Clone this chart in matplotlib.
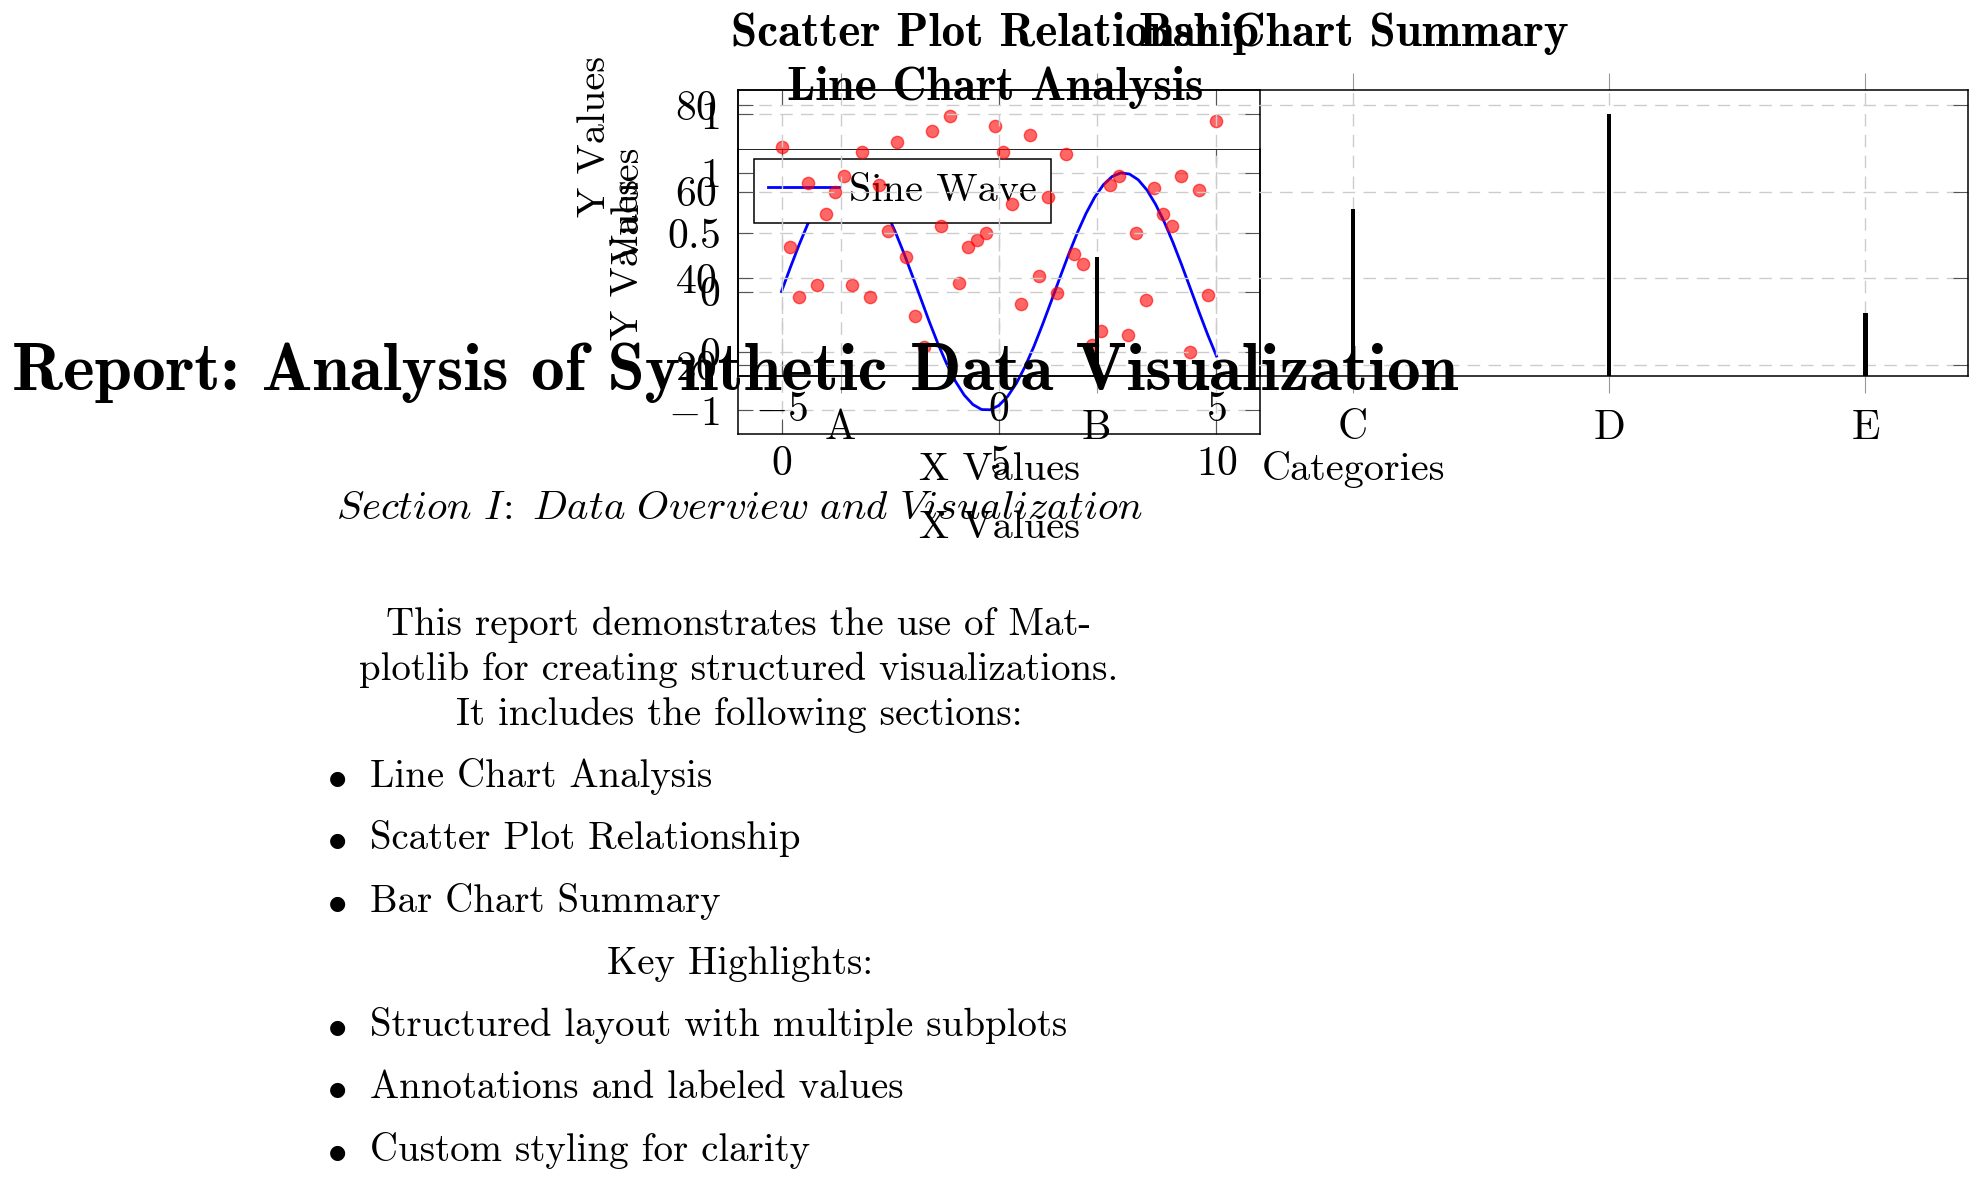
#!/usr/bin/env python3

import numpy as np
import matplotlib
matplotlib.use("Agg")
import matplotlib.pyplot as plt

# data
line_x = [0.0, 0.2, 0.4, 0.6, 0.8, 1.0, 1.2, 1.4, 1.6, 1.8,
          2.0, 2.2, 2.4, 2.6, 2.8, 3.0, 3.2, 3.4, 3.6, 3.8,
          4.0, 4.2, 4.4, 4.6, 4.8, 5.0, 5.2, 5.4, 5.6, 5.8,
          6.0, 6.2, 6.4, 6.6, 6.8, 7.0, 7.2, 7.4, 7.6, 7.8,
          8.0, 8.2, 8.4, 8.6, 8.8, 9.0, 9.2, 9.4, 9.6, 9.8, 10.0]
line_y = [0.000, 0.199, 0.389, 0.565, 0.717, 0.841, 0.932, 0.985, 1.000, 0.974,
          0.909, 0.808, 0.675, 0.516, 0.335, 0.141, -0.058, -0.256, -0.443, -0.612,
          -0.757, -0.872, -0.952, -0.994, -0.996, -0.959, -0.883, -0.773, -0.631, -0.465,
          -0.279, -0.083, 0.117, 0.312, 0.494, 0.657, 0.794, 0.899, 0.968, 0.999,
          0.989, 0.941, 0.855, 0.734, 0.585, 0.412, 0.223, 0.025, -0.174, -0.366, -0.544]

scatter_x = [-5.00, -4.80, -4.59, -4.39, -4.18, -3.98, -3.78, -3.57, -3.37, -3.16,
             -2.96, -2.76, -2.55, -2.35, -2.14, -1.94, -1.73, -1.53, -1.33, -1.12,
             -0.92, -0.71, -0.51, -0.31, -0.10, 0.10, 0.31, 0.51, 0.71, 0.92,
             1.12, 1.33, 1.53, 1.73, 1.94, 2.14, 2.35, 2.55, 2.76, 2.96,
             3.16, 3.37, 3.57, 3.78, 3.98, 4.18, 4.39, 4.59, 4.80, 5.00]
scatter_y = [0.86, 0.44, 0.23, 0.71, 0.28, 0.58, 0.67, 0.74, 0.28, 0.84,
             0.23, 0.70, 0.51, 0.88, 0.40, 0.15, 0.02, 0.93, 0.53, 0.99,
             0.29, 0.44, 0.47, 0.50, 0.95, 0.84, 0.62, 0.20, 0.91, 0.32,
             0.65, 0.25, 0.83, 0.41, 0.37, 0.03, 0.09, 0.70, 0.74, 0.07,
             0.50, 0.22, 0.69, 0.58, 0.53, 0.74, 0.00, 0.68, 0.24, 0.97]

categories = ["A", "B", "C", "D", "E"]
bar_values = [12, 45, 56, 78, 32]

line_xticks = [0, 5, 10]
line_yticks = [-1, 0, 1]
line_yticklabels = ["$-1$", "$0$", "$1$"]
scatter_xticks = [-5, 0, 5]
scatter_xticklabels = ["$-5$", "$0$", "$5$"]
scatter_yticks = [0, 0.5, 1]
scatter_yticklabels = ["$0$", "$0.5$", "$1$"]
bar_yticks = [20, 40, 60, 80]

intro_lines = ["This report demonstrates the use of Mat-",
               "plotlib for creating structured visualizations.",
               "It includes the following sections:"]
section_items = ["Line Chart Analysis", "Scatter Plot Relationship", "Bar Chart Summary"]
highlight_items = ["Structured layout with multiple subplots",
                   "Annotations and labeled values",
                   "Custom styling for clarity"]

W, H = 1970, 1183

plt.rcParams["font.family"] = "cmr10"
plt.rcParams["mathtext.fontset"] = "cm"
plt.rcParams["axes.unicode_minus"] = False

TICK_FS = 30


def fx(px):
    return px / W


def fy(py):
    return 1 - py / H


def rect(x0, y0, x1, y1):
    return [x0 / W, 1 - y1 / H, (x1 - x0) / W, (y1 - y0) / H]


grid_kw = dict(color="#cccccc", linestyle=(0, (9, 6)), linewidth=1.0)
tick_col = "#555555"

fig = plt.figure(figsize=(W / 100, H / 100), dpi=100)

# line chart
axL = fig.add_axes(rect(738, 149, 1260, 434), facecolor="none")
axL.plot(line_x, line_y, color="blue", lw=2.0, label="Sine Wave")
axL.set_xlim(-1, 11)
axL.set_ylim(-1.2, 1.2)
axL.set_xticks(line_xticks, ["$%d$" % t for t in line_xticks])
axL.set_yticks(line_yticks, line_yticklabels)
axL.tick_params(direction="in", length=11, width=0.8, color=tick_col,
                top=True, right=True, labelsize=TICK_FS)
axL.tick_params(axis="x", pad=8)
axL.tick_params(axis="y", pad=13)
axL.grid(True, **grid_kw)
for s in axL.spines.values():
    s.set_linewidth(1.1)
axL.spines["top"].set_linewidth(0.6)
axL.legend(loc="upper left", bbox_to_anchor=(fx(754), fy(159)),
           bbox_transform=fig.transFigure, borderaxespad=0, fancybox=False,
           edgecolor="black", framealpha=1, fontsize=29, handlelength=1.75,
           handletextpad=0.25, borderpad=0.35)
axL.get_legend().get_frame().set_linewidth(1.1)

# scatter
axS = fig.add_axes(rect(738, 90, 1260, 376), facecolor="none")
axS.scatter(scatter_x, scatter_y, color="red", alpha=0.6, s=78, linewidths=1)
axS.set_xlim(-6, 6)
axS.set_ylim(-0.1, 1.1)
axS.set_xticks(scatter_xticks, scatter_xticklabels)
axS.set_yticks(scatter_yticks, scatter_yticklabels)
axS.tick_params(direction="in", length=11, width=0.8, color=tick_col,
                top=True, right=True, labelsize=TICK_FS)
axS.tick_params(axis="x", pad=11)
axS.tick_params(axis="y", pad=13)
axS.grid(True, **grid_kw)
for s in axS.spines.values():
    s.set_linewidth(1.1)

# bar chart
axB = fig.add_axes(rect(738, 90, 1968, 376), facecolor="none")
axB.set_axisbelow(True)
axB.bar(range(len(categories)), bar_values, width=0.016, color="black")
axB.set_xlim(-0.4, 4.4)
axB.set_ylim(17.46, 83.46)
axB.set_xticks(range(len(categories)), categories)
axB.set_yticks(bar_yticks, ["$%d$" % t for t in bar_yticks])
axB.tick_params(axis="x", direction="out", length=12, width=0.8, color="#999999",
                top=True, bottom=True, labelsize=TICK_FS, pad=12)
axB.tick_params(axis="y", direction="in", length=11, width=0.8, color=tick_col,
                left=True, right=True, labelsize=TICK_FS, pad=15)
axB.grid(True, **grid_kw)
for s in axB.spines.values():
    s.set_linewidth(1.1)

# titles and axis labels
bold = dict(family="cmb10", fontsize=34, ha="center", va="baseline")
fig.text(fx(995), fy(46), "Scatter Plot Relationship", **bold)
fig.text(fx(1354), fy(46), "Bar Chart Summary", **bold)
fig.text(fx(995), fy(100), "Line Chart Analysis", **bold)

lab = dict(fontsize=29, ha="center", va="baseline")
fig.text(fx(999), fy(480), "X Values", **lab)
fig.text(fx(999), fy(538), "X Values", **lab)
fig.text(fx(1353), fy(480), "Categories", **lab)
vlab = dict(fontsize=29, ha="center", va="center", rotation=90)
fig.text(fx(595), fy(136), "Y Values", **vlab)
fig.text(fx(628), fy(259), "Y Values", **vlab)
fig.text(fx(628), fy(205), "Values", **vlab)

# report text
fig.text(fx(12), fy(390), "Report: Analysis of Synthetic Data Visualization",
         family="cmb10", fontsize=48.5, ha="left", va="baseline")
fig.text(fx(739), fy(519),
         r"$\mathit{Section\ I\!:\ Data\ Overview\ and\ Visualization}$",
         fontsize=29.5, ha="center", va="baseline")

body = dict(fontsize=28, va="baseline")
for i, line in enumerate(intro_lines):
    fig.text(fx(739), fy(635 + 45 * i), line, ha="center", **body)
for i, item in enumerate(section_items):
    y = 787 + 62.4 * i
    fig.text(fx(337), fy(y), r"$\bullet$", ha="center", **body)
    fig.text(fx(370), fy(y), item, ha="left", **body)
fig.text(fx(740), fy(974), "Key Highlights:", ha="center", **body)
for i, item in enumerate(highlight_items):
    y = 1036 + 62.4 * i
    fig.text(fx(337), fy(y), r"$\bullet$", ha="center", **body)
    fig.text(fx(370), fy(y), item, ha="left", **body)

fig.savefig("out.png", dpi=100)
